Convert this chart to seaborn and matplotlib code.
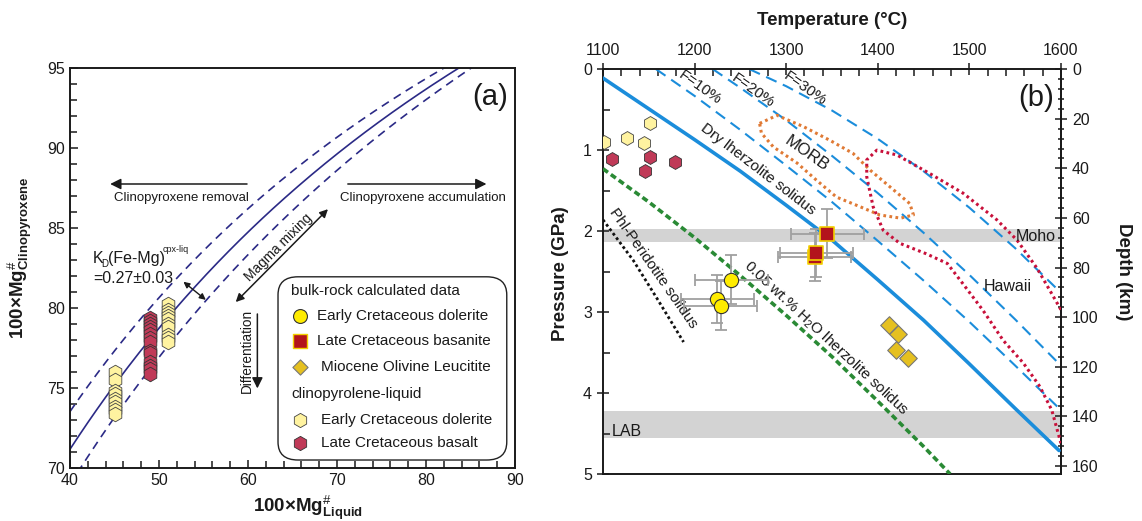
import numpy as np
import matplotlib
matplotlib.use("Agg")
import matplotlib.pyplot as plt
from matplotlib.patches import FancyBboxPatch
from matplotlib.ticker import MultipleLocator, FixedLocator
import seaborn as sns

# ---------------- panel (a) data ----------------
kd_values = [0.24, 0.27, 0.30]          # K_D(Fe-Mg) cpx-liq, 0.27 +/- 0.03
dol_a_x = [45] * 9
dol_a_y = [76.0, 75.5, 74.8, 74.6, 74.3, 74.1, 73.8, 73.6, 73.4]
dol_b_x = [51] * 10
dol_b_y = [80.25, 79.9, 79.7, 79.5, 79.3, 79.0, 78.8, 78.3, 78.1, 77.9]
bas_x = [49] * 14
bas_y = [79.4, 79.2, 79.0, 78.8, 78.6, 78.4, 78.1, 77.9, 77.3, 77.2, 76.6, 76.4, 76.2, 75.9]

# ---------------- panel (b) data ----------------
sol_T = [1100, 1150, 1200, 1250, 1300, 1350, 1400, 1450, 1500, 1550, 1598]
sol_P = [0.11, 0.49, 0.87, 1.26, 1.68, 2.11, 2.60, 3.10, 3.64, 4.19, 4.71]
f10_T = [1158, 1200, 1250, 1300, 1350, 1400, 1450, 1500, 1550, 1599]
f10_P = [0, 0.33, 0.75, 1.19, 1.64, 2.12, 2.61, 3.12, 3.66, 4.20]
f20_T = [1220, 1250, 1300, 1350, 1400, 1450, 1500, 1550, 1599]
f20_P = [0, 0.23, 0.63, 1.07, 1.53, 2.02, 2.54, 3.09, 3.65]
f30_T = [1260, 1300, 1350, 1400, 1450, 1500, 1550, 1599]
f30_P = [0, 0.21, 0.51, 0.86, 1.26, 1.71, 2.21, 2.75]
wet_T = [1100, 1150, 1200, 1250, 1300, 1350, 1400, 1450, 1479]
wet_P = [1.23, 1.64, 2.08, 2.55, 3.04, 3.55, 4.10, 4.66, 5.0]
phl_T = [1100, 1133, 1160, 1188]
phl_P = [1.86, 2.36, 2.85, 3.37]
morb_T = [1271, 1290, 1319, 1348, 1373, 1392, 1413, 1435, 1439, 1425, 1402,
          1381, 1355, 1333, 1312, 1286, 1273, 1271]
morb_P = [0.67, 0.57, 0.71, 0.88, 1.04, 1.25, 1.45, 1.66, 1.80, 1.84, 1.80,
          1.70, 1.58, 1.37, 1.16, 0.96, 0.79, 0.67]
haw_T = [1600, 1574, 1552, 1530, 1493, 1457, 1421, 1399, 1388, 1388, 1395,
         1406, 1424, 1453, 1476, 1493, 1515, 1537, 1559, 1577, 1590, 1600]
haw_P = [2.97, 2.46, 2.11, 1.86, 1.53, 1.29, 1.06, 1.00, 1.12, 1.33, 1.70,
         1.99, 2.15, 2.28, 2.40, 2.65, 2.98, 3.35, 3.63, 3.92, 4.21, 4.62]
moho = (1.98, 2.14)
lab = (4.22, 4.55)

cpx_dol_T = [1101, 1126.5, 1145, 1151]
cpx_dol_P = [0.905, 0.85, 0.91, 0.66]
cpx_bas_T = [1110, 1146, 1151, 1179]
cpx_bas_P = [1.11, 1.26, 1.08, 1.15]
dol_T = [1240, 1225, 1228.5]
dol_P = [2.60, 2.84, 2.92]
dol_Terr = [40, 40, 40]
dol_Perr = [0.3, 0.3, 0.3]
basn_T = [1331, 1333, 1345]
basn_P = [2.32, 2.27, 2.03]
basn_Terr = [40, 40, 40]
basn_Perr = [0.3, 0.3, 0.3]
leu_T = [1412.6, 1421.7, 1419.5, 1432.6]
leu_P = [3.16, 3.27, 3.47, 3.57]
km_per_gpa = 32.65
depth_ticks = [0, 20, 40, 60, 80, 100, 120, 140, 160]

sns.set_theme(style="ticks")
plt.rcParams["font.family"] = ["Liberation Sans", "DejaVu Sans"]
plt.rcParams["mathtext.fontset"] = "custom"
plt.rcParams["mathtext.rm"] = "Liberation Sans"
plt.rcParams["mathtext.bf"] = "Liberation Sans:bold"
plt.rcParams["mathtext.it"] = "Liberation Sans:italic"
plt.rcParams["axes.linewidth"] = 1.4

TXT = "#1a1a1a"
C_DOL_HEX = "#fff3a0"
C_BAS_HEX = "#c03a58"
C_YEL = "#ffec00"
C_RED = "#b3141c"
C_LEU = "#e5c020"
BLUE = "#1b8ddb"
NAVY = "#2b2a86"

fig = plt.figure(figsize=(11.42, 5.21), dpi=100)
axa = fig.add_axes([0.0613, 0.1017, 0.3897, 0.7678])
axb = fig.add_axes([0.528, 0.0902, 0.401, 0.777])

# ================= panel (a) =================
mg_liq = np.linspace(40, 90, 200)
for kd in kd_values:
    m = mg_liq / 100
    mg_cpx = 100 / (1 + kd * (1 - m) / m)
    ls = "-" if kd == 0.27 else (0, (5, 3.5))
    axa.plot(mg_liq, mg_cpx, color=NAVY, lw=1.2, ls=ls, zorder=2)

sns.scatterplot(x=dol_a_x + dol_b_x, y=dol_a_y + dol_b_y, marker="h", s=110,
                color=C_DOL_HEX, edgecolor="#444", linewidth=0.6, ax=axa, zorder=4)
sns.scatterplot(x=bas_x, y=bas_y, marker="h", s=110, color=C_BAS_HEX,
                edgecolor="#333", linewidth=0.6, ax=axa, zorder=4)

arr = dict(arrowstyle="-|>", color="k", lw=1.1, mutation_scale=16)
darr = dict(arrowstyle="<|-|>", color="k", lw=1.1, mutation_scale=12)
axa.annotate("", xy=(44.2, 87.75), xytext=(60.2, 87.75), arrowprops=arr)
axa.annotate("", xy=(87.1, 87.75), xytext=(70.9, 87.75), arrowprops=arr)
axa.annotate("", xy=(58.4, 80.25), xytext=(69.2, 86.3), arrowprops=darr)
axa.annotate("", xy=(52.5, 81.75), xytext=(55.5, 80.4),
             arrowprops=dict(arrowstyle="<|-|>", color="k", lw=1.0, mutation_scale=9))
axa.annotate("", xy=(61.05, 74.8), xytext=(61.05, 79.8), arrowprops=arr)

axa.text(52.5, 86.9, "Clinopyroxene removal", ha="center", va="center", fontsize=9.5, color=TXT)
axa.text(79.6, 86.9, "Clinopyroxene accumulation", ha="center", va="center", fontsize=9.5, color=TXT)
axa.text(63.4, 83.75, "Magma mixing", ha="center", va="center", rotation=45,
         rotation_mode="anchor", fontsize=9.8, color=TXT)
axa.text(59.9, 77.3, "Differentiation", ha="center", va="center", rotation=90,
         fontsize=9.8, color=TXT)
axa.text(42.6, 83.1, "K", ha="left", va="center", fontsize=11.5, color=TXT)
axa.text(43.55, 82.75, "D", ha="left", va="center", fontsize=7, color=TXT)
axa.text(44.3, 83.1, "(Fe-Mg)", ha="left", va="center", fontsize=11.5, color=TXT)
axa.text(50.4, 83.65, "cpx-liq", ha="left", va="center", fontsize=6.5, color=TXT)
axa.text(42.6, 81.85, "=0.27\u00b10.03", ha="left", va="center", fontsize=11.5, color=TXT)
axa.text(89.2, 93.2, "(a)", ha="right", va="center", fontsize=21, color=TXT)

# legend box
box = FancyBboxPatch((0.4674, 0.02), 0.514, 0.458, transform=axa.transAxes,
                     boxstyle="round,pad=0,rounding_size=0.045", fc="white",
                     ec="#222", lw=1.0, zorder=5)
axa.add_patch(box)
leg_items = [
    ("header", "bulk-rock calculated data", 0.443, None),
    ("o", "Early Cretaceous dolerite", 0.379, dict(s=100, c=C_YEL, edgecolors="#333", linewidths=0.8)),
    ("s", "Late Cretaceous basanite", 0.317, dict(s=90, c=C_RED, edgecolors="#f2d000", linewidths=1.0)),
    ("D", "Miocene Olivine Leucitite", 0.253, dict(s=60, c=C_LEU, edgecolors="#777", linewidths=0.8)),
    ("header", "clinopyrolene-liquid", 0.185, None),
    ("h", "Early Cretaceous dolerite", 0.12, dict(s=105, c=C_DOL_HEX, edgecolors="#444", linewidths=0.6)),
    ("h", "Late Cretaceous basalt", 0.0625, dict(s=105, c=C_BAS_HEX, edgecolors="#333", linewidths=0.6)),
]
for mk, lab_txt, yy, kw in leg_items:
    if mk == "header":
        axa.text(0.497, yy, lab_txt, transform=axa.transAxes, ha="left", va="center",
                 fontsize=11, color=TXT, zorder=6)
    else:
        axa.scatter([0.516], [yy], marker=mk, transform=axa.transAxes, zorder=6,
                    clip_on=False, **kw)
        tx = 0.556 if mk in ("o", "s") else 0.563
        axa.text(tx, yy, lab_txt, transform=axa.transAxes, ha="left", va="center",
                 fontsize=11, color=TXT, zorder=6)

axa.set_xlim(40, 90)
axa.set_ylim(70, 95)
axa.xaxis.set_major_locator(MultipleLocator(10))
axa.xaxis.set_minor_locator(MultipleLocator(2))
axa.yaxis.set_major_locator(MultipleLocator(5))
axa.yaxis.set_minor_locator(MultipleLocator(1))
axa.tick_params(which="both", direction="in", color="k", width=1.1, labelsize=11.5,
                labelcolor=TXT, top=False, right=False)
axa.tick_params(which="major", length=6)
axa.tick_params(which="minor", length=5)
axa.set_xlabel("$\\mathbf{100×Mg}^{\\#}_{\\mathbf{Liquid}}$", fontsize=13.5, color=TXT)
axa.set_ylabel("$\\mathbf{100×Mg}^{\\#}_{\\mathbf{Clinopyroxene}}$", fontsize=13.5, color=TXT)
axa.xaxis.set_label_coords(0.535, -0.065)
axa.yaxis.set_label_coords(-0.082, 0.525)
for s in axa.spines.values():
    s.set_color("k")

# ================= panel (b) =================
axb.axhspan(*moho, color="#d3d3d3", lw=0, zorder=0)
axb.axhspan(*lab, color="#d3d3d3", lw=0, zorder=0)

for tt, pp in ((f10_T, f10_P), (f20_T, f20_P), (f30_T, f30_P)):
    sns.lineplot(x=tt, y=pp, color=BLUE, lw=1.5, linestyle=(0, (5.5, 3.3)),
                 sort=False, estimator=None, ax=axb, zorder=2)
sns.lineplot(x=sol_T, y=sol_P, color=BLUE, lw=2.6, sort=False, estimator=None, ax=axb, zorder=3)
sns.lineplot(x=wet_T, y=wet_P, color="#2a8a35", lw=2.6, linestyle=(0, (1.7, 1.0)),
             sort=False, estimator=None, ax=axb, zorder=3)
sns.lineplot(x=phl_T, y=phl_P, color="#111", lw=2.0, linestyle=(0, (1, 1)),
             sort=False, estimator=None, ax=axb, zorder=3)
sns.lineplot(x=morb_T, y=morb_P, color="#e07a35", lw=2.2, linestyle=(0, (0.9, 1.1)),
             sort=False, estimator=None, ax=axb, zorder=3)
sns.lineplot(x=haw_T, y=haw_P, color="#c8103a", lw=2.2, linestyle=(0, (0.9, 1.1)),
             sort=False, estimator=None, ax=axb, zorder=3)

axb.errorbar(dol_T, dol_P, xerr=dol_Terr, yerr=dol_Perr, fmt="none", ecolor="#a0a0a0",
             elinewidth=1.3, capsize=4, capthick=1.3, zorder=4)
axb.errorbar(basn_T, basn_P, xerr=basn_Terr, yerr=basn_Perr, fmt="none", ecolor="#a0a0a0",
             elinewidth=1.3, capsize=4, capthick=1.3, zorder=4)
sns.scatterplot(x=cpx_dol_T, y=cpx_dol_P, marker="h", s=100, color=C_DOL_HEX,
                edgecolor="#444", linewidth=0.6, ax=axb, zorder=5)
sns.scatterplot(x=cpx_bas_T, y=cpx_bas_P, marker="h", s=100, color=C_BAS_HEX,
                edgecolor="#333", linewidth=0.6, ax=axb, zorder=5)
sns.scatterplot(x=dol_T, y=dol_P, marker="o", s=105, color=C_YEL, edgecolor="#333",
                linewidth=0.8, ax=axb, zorder=5)
sns.scatterplot(x=basn_T, y=basn_P, marker="s", s=100, color=C_RED, edgecolor="#f2d000",
                linewidth=1.2, ax=axb, zorder=5)
sns.scatterplot(x=leu_T, y=leu_P, marker="D", s=80, color=C_LEU, edgecolor="#777",
                linewidth=0.8, ax=axb, zorder=5)

tb = dict(color=TXT, ha="center", va="center", rotation_mode="anchor")
axb.text(1206, 0.23, "F=10%", rotation=-35, fontsize=11, **tb)
axb.text(1264, 0.26, "F=20%", rotation=-35, fontsize=11, **tb)
axb.text(1320, 0.24, "F=30%", rotation=-35, fontsize=11, **tb)
axb.text(1269, 1.23, "Dry lherzolite solidus", rotation=-37.5, fontsize=11, **tb)
axb.text(1322, 1.04, "MORB", rotation=-35, fontsize=12, **tb)
axb.text(1343, 3.32, r"0.05 wt.% H$_\mathregular{2}$O lherzolite solidus", rotation=-43,
         fontsize=11, **tb)
axb.text(1155, 2.46, "Phl-Peridotite solidus", rotation=-55, fontsize=11, **tb)
axb.text(1542, 2.69, "Hawaii", fontsize=11.5, color=TXT, ha="center", va="center")
axb.text(1594, 2.07, "Moho", fontsize=11.5, color=TXT, ha="right", va="center")
axb.text(1110, 4.47, "LAB", fontsize=11.5, color=TXT, ha="left", va="center")
axb.text(1592, 0.35, "(b)", fontsize=21, color=TXT, ha="right", va="center")

axb.set_xlim(1100, 1600)
axb.set_ylim(5, 0)
axb.xaxis.tick_top()
axb.xaxis.set_label_position("top")
axb.xaxis.set_major_locator(MultipleLocator(100))
axb.xaxis.set_minor_locator(MultipleLocator(20))
axb.yaxis.set_major_locator(MultipleLocator(1))
axb.yaxis.set_minor_locator(MultipleLocator(0.5))
axb.tick_params(which="both", color="k", width=1.1, labelsize=11.5, labelcolor=TXT,
                top=True, bottom=False, left=True, right=False)
axb.tick_params(which="major", direction="inout", length=9)
axb.tick_params(which="minor", direction="in", length=5)
axb.set_xlabel("Temperature (\u00b0C)", fontsize=13.5, fontweight="bold", color=TXT, labelpad=13)
axb.set_ylabel("Pressure (GPa)", fontsize=13.5, fontweight="bold", color=TXT)
axb.yaxis.set_label_coords(-0.075, 0.495)
for s in axb.spines.values():
    s.set_color("k")

dep = axb.secondary_yaxis("right", functions=(lambda p: p * km_per_gpa,
                                              lambda d: d / km_per_gpa))
dep.yaxis.set_major_locator(FixedLocator(depth_ticks))
dep.yaxis.set_minor_locator(FixedLocator(list(range(0, 161, 4))))
dep.tick_params(which="both", color="k", width=1.1, labelsize=11.5, labelcolor=TXT)
dep.tick_params(which="major", direction="inout", length=9)
dep.tick_params(which="minor", direction="inout", length=5)
dep.set_ylabel("Depth (km)", fontsize=13.5, fontweight="bold", color=TXT,
               rotation=270, labelpad=24)

fig.savefig("out.png", dpi=100)
